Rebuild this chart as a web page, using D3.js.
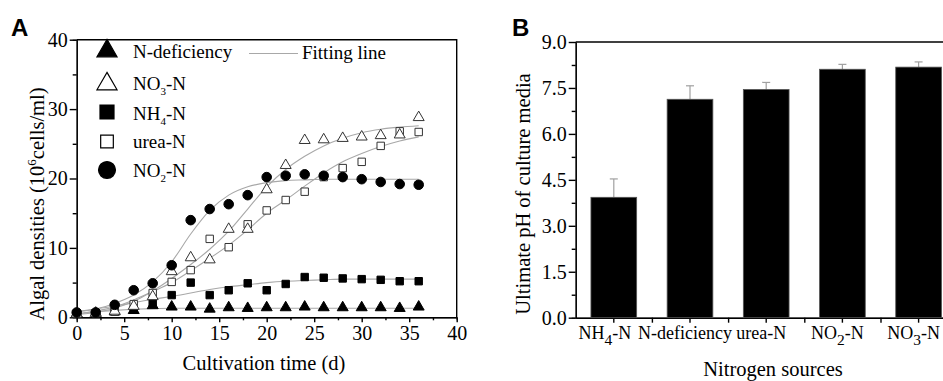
<!DOCTYPE html>
<html>
<head>
<meta charset="utf-8">
<script src="https://cdn.jsdelivr.net/npm/d3@7"></script>
<style>
body { margin: 0; background: #fff; }
text { font-family: 'Liberation Serif', 'Times New Roman', serif; }
</style>
</head>
<body>
<script>
// ---- panel A data: cell density (10^6 cells/ml) by day ----
var days = [0, 2, 4, 6, 8, 10, 12, 14, 16, 18, 20, 22, 24, 26, 28, 30, 32, 34, 36];
var nDeficiency = [0.5, 0.6, 0.8, 1.0, 1.7, 1.5, 1.5, 1.2, 1.4, 1.3, 1.4, 1.4, 1.5, 1.4, 1.4, 1.4, 1.4, 1.3, 1.5];
var no3N = [0.5, 0.6, 0.9, 1.6, 3.0, 6.6, 8.6, 8.3, 12.7, 12.7, 18.4, 21.9, 25.5, 25.6, 25.8, 26.0, 26.2, 26.3, 28.8];
var nh4N = [0.5, 0.6, 0.8, 1.1, 2.1, 3.2, 5.0, 3.2, 3.9, 4.9, 3.9, 4.8, 5.8, 5.7, 5.6, 5.5, 5.4, 5.2, 5.2];
var ureaN = [0.5, 0.6, 0.8, 1.9, 3.5, 5.1, 6.8, 11.3, 10.1, 13.4, 15.4, 16.9, 18.1, 20.2, 21.5, 22.4, 24.7, 26.8, 26.7];
var no2N = [0.7, 0.7, 1.8, 3.9, 4.9, 7.5, 14.0, 15.6, 16.3, 17.6, 20.2, 20.4, 20.6, 20.4, 20.2, 19.9, 19.5, 19.2, 19.1];

// fitting lines at the same days
var fitNdef = [0.5, 0.8, 1.0, 1.15, 1.25, 1.3, 1.3, 1.3, 1.3, 1.3, 1.3, 1.3, 1.3, 1.3, 1.3, 1.3, 1.3, 1.3, 1.3];
var fitNO3 = [0.4, 0.7, 1.3, 2.3, 3.8, 5.6, 7.6, 9.8, 12.4, 15.6, 18.8, 21.3, 23.2, 24.7, 25.8, 26.6, 27.1, 27.4, 27.6];
var fitNH4 = [0.8, 1.2, 1.6, 2.1, 2.6, 3.0, 3.5, 4.0, 4.4, 4.7, 5.0, 5.2, 5.3, 5.4, 5.5, 5.5, 5.5, 5.5, 5.5];
var fitUrea = [0.5, 0.9, 1.5, 2.5, 3.7, 5.0, 6.7, 8.5, 10.4, 12.6, 15.0, 16.9, 18.9, 20.8, 22.4, 23.6, 24.6, 25.4, 26.0];
var fitNO2 = [0.8, 1.2, 2.0, 3.2, 5.1, 8.0, 12.0, 15.4, 17.6, 18.8, 19.4, 19.7, 19.8, 19.9, 19.9, 19.9, 19.9, 19.9, 19.9];

var legendNames = ['N-deficiency', 'NO3-N', 'NH4-N', 'urea-N', 'NO2-N'];

// ---- panel B data: final pH ----
var sources = ['NH4-N', 'N-deficiency', 'urea-N', 'NO2-N', 'NO3-N'];
var phValues = [3.93, 7.13, 7.45, 8.11, 8.18];
var phErrors = [0.6, 0.44, 0.23, 0.16, 0.17];
var phTicks = [0, 1.5, 3.0, 4.5, 6.0, 7.5, 9.0];

var svg = d3.select('body').append('svg')
    .attr('width', 943)
    .attr('height', 381)
    .style('display', 'block');

// label with subscript digit, e.g. NO3-N
function subLabel(t, label, size, shift) {
    var m = label.match(/^(N[HO])(\d)(-N)$/);
    if (!m) { t.text(label); return; }
    t.text(null);
    t.append('tspan').text(m[1]);
    t.append('tspan').attr('dy', shift).attr('font-size', size).text(m[2]);
    t.append('tspan').attr('dy', -shift).text(m[3]);
}

// ================= panel A =================
var xA = d3.scaleLinear().domain([0, 40]).range([76.7, 456.7]);
var yA = d3.scaleLinear().domain([0, 40]).range([317.3, 39.7]);

var gA = svg.append('g');

// minor ticks
gA.append('g')
    .attr('transform', 'translate(0,' + yA(0) + ')')
    .call(d3.axisBottom(xA).tickValues(d3.range(2.5, 40, 5)).tickSize(3).tickFormat(''));
gA.append('g')
    .attr('transform', 'translate(' + xA(0) + ',0)')
    .call(d3.axisLeft(yA).tickValues([5, 15, 25, 35]).tickSize(4).tickFormat(''));

var xAxisA = gA.append('g')
    .attr('transform', 'translate(0,' + yA(0) + ')')
    .call(d3.axisBottom(xA).tickValues(d3.range(0, 41, 5)).tickSize(5).tickSizeOuter(0).tickPadding(4));
var yAxisA = gA.append('g')
    .attr('transform', 'translate(' + xA(0) + ',0)')
    .call(d3.axisLeft(yA).tickValues([0, 10, 20, 30, 40]).tickSize(7).tickSizeOuter(0).tickPadding(2));

[xAxisA, yAxisA].forEach(function (a) {
    a.selectAll('text').attr('font-size', '20px').attr('fill', '#000')
        .style('font-family', "'Liberation Serif', serif");
    a.selectAll('line,path').attr('stroke', '#000').attr('stroke-width', 1.4);
});
gA.selectAll('g line').attr('stroke-width', 1.4);

// frame top/right
gA.append('path')
    .attr('d', 'M' + xA(0) + ',' + yA(40) + 'H' + xA(40) + 'V' + yA(0))
    .attr('fill', 'none')
    .attr('stroke', '#000')
    .attr('stroke-width', 1.4);

// fitting lines
var fitLine = d3.line()
    .x(function (d, i) { return xA(days[i]); })
    .y(function (d) { return yA(d); })
    .curve(d3.curveMonotoneX);

[fitNdef, fitNH4, fitUrea, fitNO3, fitNO2].forEach(function (f) {
    gA.append('path')
        .datum(f)
        .attr('d', fitLine)
        .attr('fill', 'none')
        .attr('stroke', '#a8a8a8')
        .attr('stroke-width', 1.1);
});

// markers
var seriesA = [
    { values: nDeficiency, sym: d3.symbolTriangle, size: 52, fill: '#000' },
    { values: nh4N, sym: d3.symbolSquare, size: 55, fill: '#000' },
    { values: ureaN, sym: d3.symbolSquare, size: 55, fill: '#fff' },
    { values: no3N, sym: d3.symbolTriangle, size: 52, fill: '#fff' },
    { values: no2N, sym: d3.symbolCircle, size: 72, fill: '#000' }
];

seriesA.forEach(function (s) {
    gA.append('g').selectAll('path')
        .data(s.values)
        .enter()
        .append('path')
        .attr('transform', function (d, i) {
            return 'translate(' + xA(days[i]) + ',' + yA(d) + ')';
        })
        .attr('d', d3.symbol().type(s.sym).size(s.size))
        .attr('fill', s.fill)
        .attr('stroke', s.fill === '#fff' ? '#333' : '#000')
        .attr('stroke-width', 1);
});

// legend
var legendSyms = [
    { sym: d3.symbolTriangle, size: 175, fill: '#000', y: 51, ty: 58 },
    { sym: d3.symbolTriangle, size: 175, fill: '#fff', y: 84, ty: 90 },
    { sym: d3.symbolSquare, size: 196, fill: '#000', y: 112, ty: 119.5 },
    { sym: d3.symbolSquare, size: 160, fill: '#fff', y: 141.5, ty: 148 },
    { sym: d3.symbolCircle, size: 225, fill: '#000', y: 170, ty: 177 }
];
var legend = gA.append('g');
legendSyms.forEach(function (l, i) {
    legend.append('path')
        .attr('transform', 'translate(107,' + l.y + ')')
        .attr('d', d3.symbol().type(l.sym).size(l.size))
        .attr('fill', l.fill)
        .attr('stroke', '#000')
        .attr('stroke-width', 1.2);
    var t = legend.append('text')
        .attr('x', 133)
        .attr('y', l.ty)
        .attr('font-size', '19px');
    subLabel(t, legendNames[i], '11px', 5);
});
legend.append('line')
    .attr('x1', 249).attr('x2', 298)
    .attr('y1', 53.5).attr('y2', 53.5)
    .attr('stroke', '#a8a8a8')
    .attr('stroke-width', 1.1);
legend.append('text')
    .attr('x', 302)
    .attr('y', 59)
    .attr('font-size', '19px')
    .text('Fitting line');

// axis titles
svg.append('text')
    .attr('x', 264)
    .attr('y', 370)
    .attr('text-anchor', 'middle')
    .attr('font-size', '20.5px')
    .text('Cultivation time (d)');

var yTitleA = svg.append('text')
    .attr('transform', 'translate(44,204) rotate(-90)')
    .attr('text-anchor', 'middle')
    .attr('font-size', '20.5px');
yTitleA.append('tspan').text('Algal densities (10');
yTitleA.append('tspan').attr('dy', -8).attr('font-size', '13px').text('6');
yTitleA.append('tspan').attr('dy', 8).text('cells/ml)');

svg.append('text')
    .attr('x', 11)
    .attr('y', 36)
    .style('font-family', "'Liberation Sans', Arial, sans-serif")
    .attr('font-weight', 'bold')
    .attr('font-size', '24px')
    .text('A');

// ================= panel B =================
var xB = d3.scaleBand().domain(sources).range([575.7, 956.7]).paddingInner(0.4).paddingOuter(0.2);
var xBedge = d3.scaleLinear().domain([0, sources.length]).range(xB.range());
var yB = d3.scaleLinear().domain([0, 9]).range([317.7, 42]);

var gB = svg.append('g');

gB.append('g')
    .attr('transform', 'translate(0,' + yB(0) + ')')
    .call(d3.axisBottom(xBedge).tickValues([1, 2, 3, 4]).tickSize(5).tickSizeOuter(0).tickFormat(''));
gB.append('g')
    .attr('transform', 'translate(' + xB.range()[0] + ',0)')
    .call(d3.axisLeft(yB).tickValues(d3.range(0.75, 9, 1.5)).tickSize(4).tickFormat(''));

var xAxisB = gB.append('g')
    .attr('transform', 'translate(0,' + yB(0) + ')')
    .call(d3.axisBottom(xB).tickSize(5).tickSizeOuter(0).tickPadding(4));
var yAxisB = gB.append('g')
    .attr('transform', 'translate(' + xB.range()[0] + ',0)')
    .call(d3.axisLeft(yB).tickValues(phTicks).tickSize(7).tickSizeOuter(0).tickPadding(2).tickFormat(d3.format('.1f')));

[xAxisB, yAxisB].forEach(function (a) {
    a.selectAll('text').attr('font-size', '20px').attr('fill', '#000')
        .style('font-family', "'Liberation Serif', serif");
    a.selectAll('line,path').attr('stroke', '#000').attr('stroke-width', 1.4);
});
gB.selectAll('g line').attr('stroke-width', 1.4);
xAxisB.selectAll('.tick text')
    .attr('font-size', '18px')
    .attr('dx', function (d, i) { return i === 0 ? -9 : -5; })
    .each(function (d) {
        subLabel(d3.select(this), d, '15.5px', 6);
    });

gB.append('line')
    .attr('x1', xB.range()[0]).attr('x2', xB.range()[1])
    .attr('y1', yB(9)).attr('y2', yB(9))
    .attr('stroke', '#000')
    .attr('stroke-width', 1.4);

// error bars (drawn first so bars cover the lower half)
var errG = gB.append('g').attr('stroke', '#a0a0a0').attr('stroke-width', 1.2);
sources.forEach(function (s, i) {
    var cx = xB(s) + xB.bandwidth() / 2;
    errG.append('line')
        .attr('x1', cx).attr('x2', cx)
        .attr('y1', yB(phValues[i])).attr('y2', yB(phValues[i] + phErrors[i]));
    errG.append('line')
        .attr('x1', cx - 4).attr('x2', cx + 4)
        .attr('y1', yB(phValues[i] + phErrors[i])).attr('y2', yB(phValues[i] + phErrors[i]));
});

gB.append('g').selectAll('rect')
    .data(sources)
    .enter()
    .append('rect')
    .attr('x', function (d) { return xB(d); })
    .attr('y', function (d, i) { return yB(phValues[i]); })
    .attr('width', xB.bandwidth())
    .attr('height', function (d, i) { return yB(0) - yB(phValues[i]); })
    .attr('fill', '#000')
    .attr('stroke', '#555')
    .attr('stroke-width', 0.8);

svg.append('text')
    .attr('x', 773)
    .attr('y', 376)
    .attr('text-anchor', 'middle')
    .attr('font-size', '20.5px')
    .text('Nitrogen sources');

svg.append('text')
    .attr('transform', 'translate(530,194) rotate(-90)')
    .attr('text-anchor', 'middle')
    .attr('font-size', '20.5px')
    .text('Ultimate pH of culture media');

svg.append('text')
    .attr('x', 512)
    .attr('y', 36)
    .style('font-family', "'Liberation Sans', Arial, sans-serif")
    .attr('font-weight', 'bold')
    .attr('font-size', '24px')
    .text('B');
</script>
</body>
</html>
